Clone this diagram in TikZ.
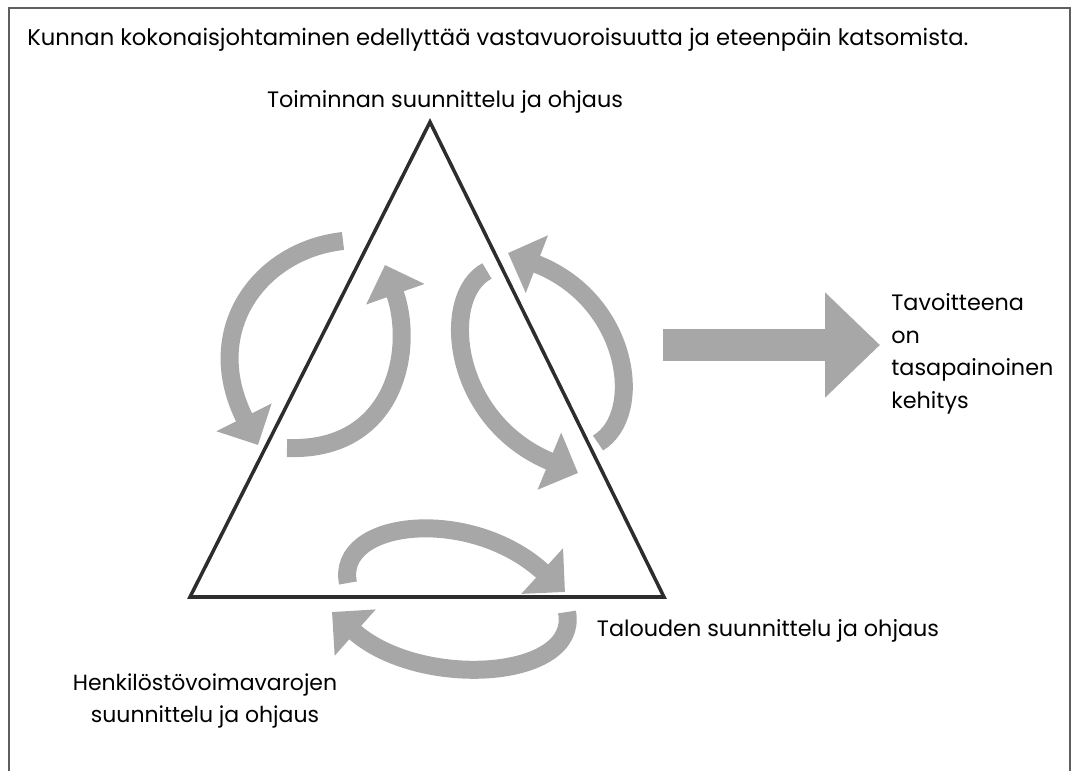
\documentclass[tikz,border=0pt]{standalone}
\usepackage{fontspec}
\setmainfont{Poppins}
\usetikzlibrary{arrows.meta}
\definecolor{loopgray}{RGB}{167,167,167}
\definecolor{framegray}{RGB}{95,95,95}
\definecolor{edgegray}{RGB}{45,45,45}
\begin{document}
\begin{tikzpicture}[x=0.02cm,y=-0.02cm,
  loop/.style={draw=loopgray,line width=0.36cm,-{Triangle[width=1.2cm,length=0.62cm]}},
  big/.style={draw=loopgray,line width=0.64cm,-{Triangle[width=2.04cm,length=1.1cm]}},
  lbl/.style={font=\fontsize{12.7}{18.5}\selectfont,inner sep=0pt}]
\useasboundingbox (0,0) rectangle (1073,771);
\draw[framegray,line width=0.8pt] (9,771) -- (9,8) -- (1070,8) -- (1070,771);
\node[lbl,font=\fontsize{12.9}{15}\selectfont,anchor=west] (title) at (27,40) {Kunnan kokonaisjohtaminen edellyttää vastavuoroisuutta ja eteenpäin katsomista.};
\coordinate (T) at (430,122);
\coordinate (L) at (190,597);
\coordinate (R) at (664,597);
\draw[edgegray,line width=2pt,line join=miter] (T) -- (L) -- (R) -- cycle;
\node[lbl] (toim) at (445,102) {Toiminnan suunnittelu ja ohjaus};
\node[lbl] (talo) at (768,631) {Talouden suunnittelu ja ohjaus};
\node[lbl,font=\fontsize{12.5}{18.5}\selectfont,align=center] (henk) at (205,701) {Henkilöstövoimavarojen\\suunnittelu ja ohjaus};
\node[lbl,align=left,anchor=west] (tav) at (891,354) {Tavoitteena\\on\\tasapainoinen\\kehitys};
\draw[loop] (343,241) .. controls (260,250) and (200,330) .. (258,445);
\draw[loop] (287,448) .. controls (395,452) and (415,350) .. (385,265);
\draw[loop] (598,443) .. controls (645,415) and (630,300) .. (508,253);
\draw[loop] (487,271) .. controls (440,295) and (450,420) .. (578,473);
\draw[loop] (348,583) .. controls (335,520) and (470,505) .. (565,592);
\draw[loop] (567,612) .. controls (580,680) and (420,690) .. (332,612);
\coordinate (start) at (663,345);
\coordinate (tip) at (880,345);
\draw[big] (start) -- (tip);
\end{tikzpicture}
\end{document}
